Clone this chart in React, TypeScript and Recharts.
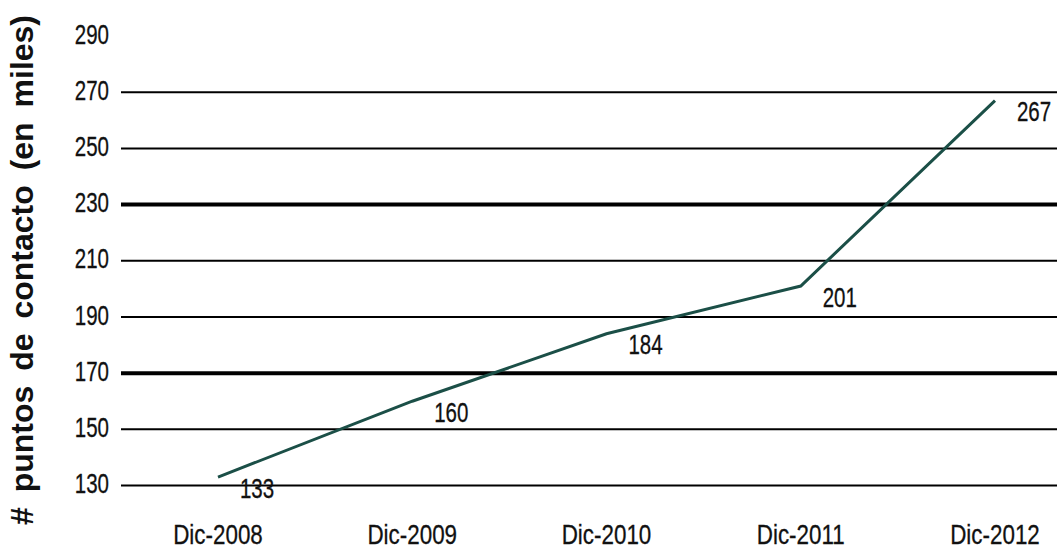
import React from "react";
import { LineChart, Line, XAxis, YAxis, ReferenceLine, LabelList } from "recharts";

// Puntos de contacto a diciembre de cada año (en miles)
const periods = ["Dic-2008", "Dic-2009", "Dic-2010", "Dic-2011", "Dic-2012"];
const contactPoints = [133, 160, 184, 201, 267];
const yTicks = [130, 150, 170, 190, 210, 230, 250, 270, 290];
const gridValues = [130, 150, 170, 190, 210, 230, 250, 270];
const heavyGridValues = [170, 230];
const axisTitle = "# puntos de contacto (en miles)";

const data = periods.map((period, i) => ({ period, value: contactPoints[i] }));

const FONT = "'Liberation Sans', Arial, sans-serif";

// Condensed text: regular sans squeezed horizontally around its anchor point
const NarrowText = ({ x, y, anchor, size, squeeze, children }: any) => (
  <g transform={`translate(${x},${y}) scale(${squeeze},1)`}>
    <text
      x={0}
      y={0}
      textAnchor={anchor}
      dominantBaseline="central"
      fontFamily={FONT}
      fontSize={size}
      fill="#111"
      stroke="#111"
      strokeWidth={0.3}
    >
      {children}
    </text>
  </g>
);

const XTick = (props: any) => {
  const { x, y, payload } = props;
  return (
    <NarrowText x={x} y={y + 49} anchor="middle" size={28} squeeze={0.8}>
      {payload.value}
    </NarrowText>
  );
};

const YTick = (props: any) => {
  const { x, y, payload } = props;
  return (
    <NarrowText x={x} y={y - 2} anchor="end" size={27} squeeze={0.76}>
      {payload.value}
    </NarrowText>
  );
};

const ValueLabel = (props: any) => {
  const { x, y, value } = props;
  return (
    <NarrowText x={x + 39} y={y + 11} anchor="middle" size={27} squeeze={0.76}>
      {value}
    </NarrowText>
  );
};

export default function App() {
  return (
    <div style={{ position: "absolute", left: 0, top: 0, width: 1057, height: 552, background: "#fff" }}>
      <LineChart
        width={1057}
        height={552}
        data={data}
        margin={{ top: 36, right: 0, bottom: 0, left: 0 }}
      >
        <XAxis
          dataKey="period"
          axisLine={false}
          tickLine={false}
          tickSize={0}
          tickMargin={0}
          height={66.5}
          padding={{ left: 97, right: 62 }}
          tick={<XTick />}
          interval={0}
        />
        <YAxis
          domain={[130, 290]}
          ticks={yTicks}
          axisLine={false}
          tickLine={false}
          tickSize={0}
          tickMargin={12}
          width={121}
          tick={<YTick />}
        />
        {gridValues.map((v) => (
          <ReferenceLine
            key={v}
            y={v}
            stroke="#000"
            strokeWidth={heavyGridValues.includes(v) ? 4 : 2}
          />
        ))}
        <Line
          type="linear"
          dataKey="value"
          stroke="#1b4f47"
          strokeWidth={3}
          dot={false}
          activeDot={false}
          isAnimationActive={false}
        >
          <LabelList dataKey="value" content={<ValueLabel />} />
        </Line>
        <text
          x={33}
          y={270}
          transform="rotate(-90, 33, 270)"
          textAnchor="middle"
          fontFamily={FONT}
          fontWeight={700}
          fontSize={32}
          wordSpacing={6}
          fill="#111"
        >
          {axisTitle}
        </text>
      </LineChart>
    </div>
  );
}
